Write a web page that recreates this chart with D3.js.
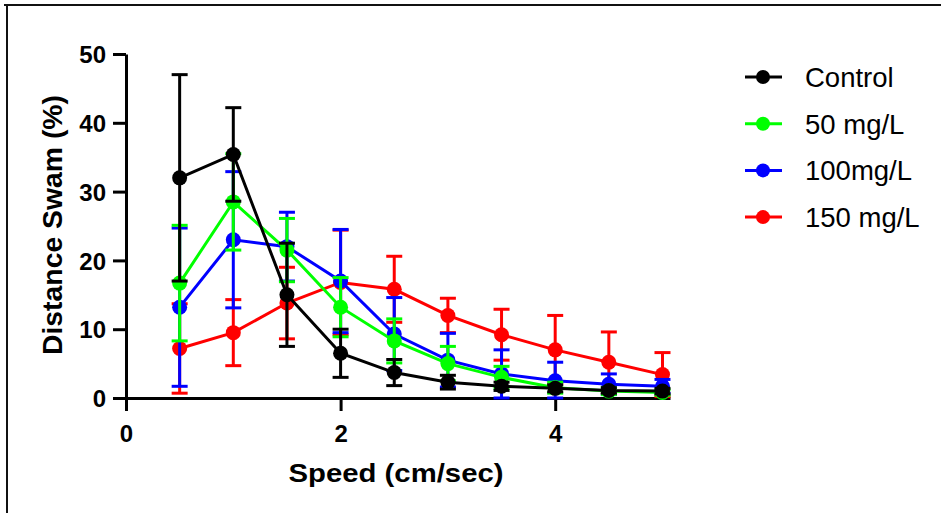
<!DOCTYPE html>
<html><head><meta charset="utf-8">
<script src="https://cdn.jsdelivr.net/npm/d3@7"></script>
<style>body{margin:0;background:#fff}svg{display:block}</style>
</head><body>
<svg id="c" width="941" height="513"></svg>
<script>
const speeds = [0.5, 1, 1.5, 2, 2.5, 3, 3.5, 4, 4.5, 5];
const seriesNames = ["Control", "50 mg/L", "100mg/L", "150 mg/L"];
const seriesColors = ["#000000", "#00ff00", "#0000ff", "#ff0000"];
const controlMean = [32.0, 35.4, 15.0, 6.5, 3.7, 2.3, 1.7, 1.4, 1.1, 1.0];
const controlErr  = [15.0, 6.8, 7.5, 3.5, 1.9, 1.0, 0.6, 0.5, 0.4, 0.4];
const mg50Mean = [16.7, 28.5, 21.5, 13.2, 8.3, 5.0, 3.0, 1.5, 1.0, 0.8];
const mg50Err  = [8.4, 7.0, 4.6, 4.3, 3.2, 2.5, 1.6, 0.8, 0.5, 0.4];
const mg100Mean = [13.2, 23.0, 22.0, 17.0, 9.3, 5.5, 3.5, 2.5, 2.0, 1.7];
const mg100Err  = [11.5, 9.9, 5.0, 7.5, 5.3, 3.9, 3.5, 2.7, 1.5, 1.0];
const mg150Mean = [7.2, 9.5, 13.8, 16.8, 15.8, 12.0, 9.2, 7.0, 5.2, 3.4];
const mg150Err  = [6.5, 4.8, 5.2, 7.6, 4.8, 2.5, 3.7, 5.0, 4.4, 3.2];
const xTicks = [0, 2, 4];
const yTicks = [0, 10, 20, 30, 40, 50];

const means = [controlMean, mg50Mean, mg100Mean, mg150Mean];
const errs = [controlErr, mg50Err, mg100Err, mg150Err];

const svg = d3.select("#c");
const font = "'Liberation Sans', Arial, sans-serif";

// frame
svg.append("line").attr("x1", 4).attr("x2", 941).attr("y1", 5).attr("y2", 5).attr("stroke", "#111").attr("stroke-width", 2);
svg.append("line").attr("x1", 7).attr("x2", 7).attr("y1", 4).attr("y2", 513).attr("stroke", "#111").attr("stroke-width", 2);

const x = d3.scaleLinear().domain([0, 5.07]).range([126, 670]);
const y = d3.scaleLinear().domain([0, 50]).range([398, 54]);

const xAxis = svg.append("g").attr("transform", "translate(0,398)")
  .call(d3.axisBottom(x).tickValues(xTicks).tickFormat(d3.format("d")).tickSize(13).tickSizeOuter(0).tickPadding(14));
const yAxis = svg.append("g").attr("transform", "translate(126,0)")
  .call(d3.axisLeft(y).tickValues(yTicks).tickFormat(d3.format("d")).tickSize(13).tickSizeOuter(0).tickPadding(7));
[xAxis, yAxis].forEach(g => {
  g.select(".domain").attr("stroke", "#000").attr("stroke-width", 3);
  g.selectAll(".tick line").attr("stroke", "#000").attr("stroke-width", 3);
  g.selectAll(".tick text").attr("fill", "#000").attr("font-family", font).attr("font-weight", "bold").attr("font-size", 24);
});
yAxis.selectAll(".tick text").attr("dy", "0.36em");

// titles
svg.append("text").attr("x", 396).attr("y", 482).attr("text-anchor", "middle")
  .attr("font-family", font).attr("font-weight", "bold").attr("font-size", 26)
  .attr("textLength", 215).attr("lengthAdjust", "spacingAndGlyphs").text("Speed (cm/sec)");
svg.append("text").attr("transform", "translate(62,225) rotate(-90)").attr("text-anchor", "middle")
  .attr("font-family", font).attr("font-weight", "bold").attr("font-size", 27)
  .attr("textLength", 260).attr("lengthAdjust", "spacingAndGlyphs").text("Distance Swam (%)");

// series, drawn from last to first so Control is on top
const order = [3, 2, 1, 0];
const line = d3.line().x(d => x(d[0])).y(d => y(d[1]));
order.forEach(i => {
  const g = svg.append("g");
  const col = seriesColors[i];
  const pts = speeds.map((s, k) => [s, means[i][k], errs[i][k]]);
  pts.forEach(p => {
    const cx = x(p[0]);
    const top = y(p[1] + p[2]);
    const bot = y(Math.max(0, p[1] - p[2]));
    g.append("line").attr("x1", cx).attr("x2", cx).attr("y1", top).attr("y2", bot).attr("stroke", col).attr("stroke-width", 3);
    g.append("line").attr("x1", cx - 8).attr("x2", cx + 8).attr("y1", top).attr("y2", top).attr("stroke", col).attr("stroke-width", 3);
    g.append("line").attr("x1", cx - 8).attr("x2", cx + 8).attr("y1", bot).attr("y2", bot).attr("stroke", col).attr("stroke-width", 3);
  });
  g.append("path").datum(pts).attr("d", line).attr("fill", "none").attr("stroke", col).attr("stroke-width", 3);
  g.selectAll("circle").data(pts).join("circle")
    .attr("cx", d => x(d[0])).attr("cy", d => y(d[1])).attr("r", 7.5).attr("fill", col);
});

// legend
const lg = svg.append("g");
seriesNames.forEach((n, i) => {
  const yy = 77 + i * 46.7;
  lg.append("line").attr("x1", 745).attr("x2", 782).attr("y1", yy).attr("y2", yy).attr("stroke", seriesColors[i]).attr("stroke-width", 3);
  lg.append("circle").attr("cx", 763).attr("cy", yy).attr("r", 7).attr("fill", seriesColors[i]);
  lg.append("text").attr("x", 805).attr("y", yy).attr("dy", "0.36em").attr("font-family", font).attr("font-size", 27.5).attr("fill", "#000").text(n);
});
</script>
</body></html>
